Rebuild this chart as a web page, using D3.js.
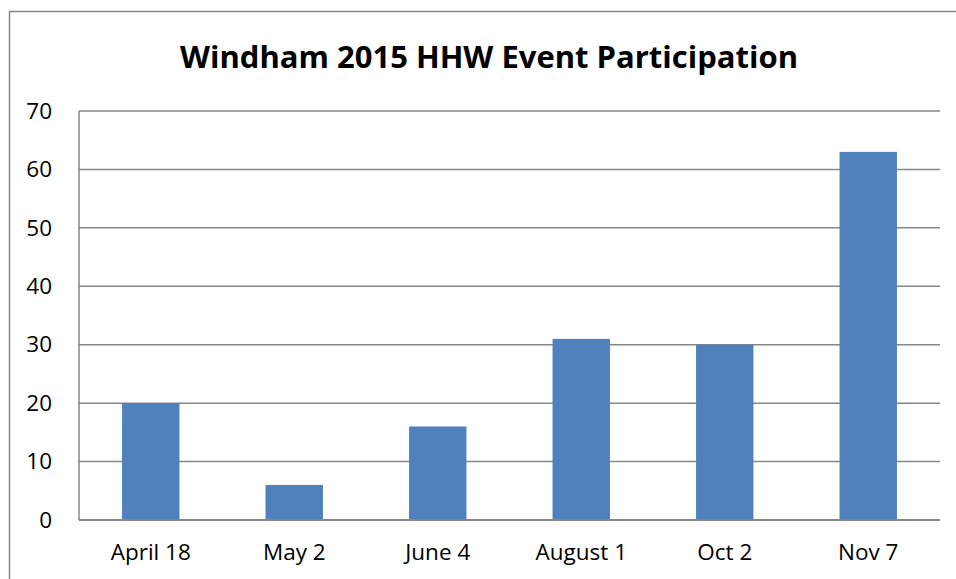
<!DOCTYPE html>
<html lang="en">
<head>
    <meta charset="utf-8">
    <title>Windham 2015 HHW Event Participation</title>
    <script src="https://d3js.org/d3.v7.min.js"></script>
    <style>
        body {
            margin: 0;
            padding: 0;
            background: #fff;
            font-family: "Open Sans", "Liberation Sans", Arial, sans-serif;
        }
        .grid line { stroke: #878787; stroke-width: 1.5px; }
        .tick text { fill: #000; }
    </style>
</head>
<body>
<svg id="chart"></svg>
<script>
    const events = ["April 18", "May 2", "June 4", "August 1", "Oct 2", "Nov 7"];
    const participants = [20, 6, 16, 31, 30, 63];
    const yTicks = [0, 10, 20, 30, 40, 50, 60, 70];

    const width = 956;
    const height = 579;
    const margin = {top: 111, right: 16, bottom: 59, left: 79};
    const tickFont = "'Open Sans', 'Liberation Sans', Arial, sans-serif";

    const svg = d3.select("#chart")
        .attr("width", width)
        .attr("height", height);

    // outer chart border (runs off the right/bottom edge)
    svg.append("rect")
        .attr("x", 9.5)
        .attr("y", 11.5)
        .attr("width", width + 20)
        .attr("height", height + 20)
        .attr("fill", "#fff")
        .attr("stroke", "#868686")
        .attr("stroke-width", 1.5);

    svg.append("text")
        .attr("x", 489)
        .attr("y", 68)
        .attr("text-anchor", "middle")
        .style("font-size", "31px")
        .style("font-weight", "bold")
        .text("Windham 2015 HHW Event Participation");

    const x = d3.scaleBand()
        .domain(events)
        .range([margin.left, width - margin.right])
        .paddingInner(0.6)
        .paddingOuter(0.3);

    const y = d3.scaleLinear()
        .domain([0, 70])
        .range([height - margin.bottom, margin.top]);

    // gridlines
    svg.append("g")
        .attr("class", "grid")
        .selectAll("line")
        .data(yTicks)
        .join("line")
        .attr("x1", margin.left)
        .attr("x2", width - margin.right)
        .attr("y1", d => y(d))
        .attr("y2", d => y(d));

    // left axis line
    svg.append("line")
        .attr("x1", margin.left)
        .attr("x2", margin.left)
        .attr("y1", y(70))
        .attr("y2", y(0))
        .attr("stroke", "#878787")
        .attr("stroke-width", 1.5);

    svg.append("g")
        .selectAll("rect")
        .data(participants)
        .join("rect")
        .attr("x", (d, i) => x(events[i]))
        .attr("y", d => y(d))
        .attr("width", x.bandwidth())
        .attr("height", d => y(0) - y(d))
        .attr("fill", "#4F81BD");

    // baseline on top of bars
    svg.append("line")
        .attr("x1", margin.left)
        .attr("x2", width - margin.right)
        .attr("y1", y(0))
        .attr("y2", y(0))
        .attr("stroke", "#878787")
        .attr("stroke-width", 2);

    const yAxis = svg.append("g")
        .attr("transform", `translate(${margin.left},0)`)
        .call(d3.axisLeft(y).tickValues(yTicks).tickSize(0).tickPadding(27));
    yAxis.select(".domain").remove();
    yAxis.selectAll("text").style("font-size", "22.5px").style("font-family", tickFont);

    const xAxis = svg.append("g")
        .attr("transform", `translate(0,${y(0)})`)
        .call(d3.axisBottom(x).tickSize(0).tickPadding(24));
    xAxis.select(".domain").remove();
    xAxis.selectAll("text").style("font-size", "22.5px").style("font-family", tickFont);
</script>
</body>
</html>
